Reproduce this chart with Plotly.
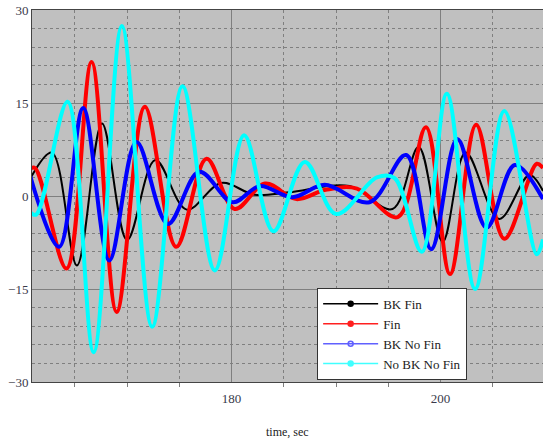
import plotly.graph_objects as go

# BK Fin (black)
bkfin_t = [160.7, 162.8, 165.2, 167.6, 170.0, 172.7, 175.7, 179.0, 182.2, 185.5, 191.3, 195.4, 197.9, 200.2, 202.4, 205.6, 208.5, 209.8]
bkfin_v = [2.7, 7.0, -11.2, 11.7, -7.1, 5.8, -2.2, 2.1, 0.2, 0.6, 1.6, -2.1, 7.9, -7.4, 7.0, -3.7, 3.4, 0.8]

# Fin (red)
fin_t = [160.7, 161.2, 164.2, 166.6, 169.0, 171.7, 174.7, 177.6, 180.3, 183.2, 186.2, 189.0, 192.0, 195.9, 198.6, 200.9, 203.4, 206.1, 209.2, 209.8]
fin_v = [4.4, 4.5, -11.7, 21.6, -18.7, 14.4, -8.2, 6.0, -2.1, 2.0, -0.5, 1.0, 1.2, -3.4, 11.1, -12.6, 11.5, -6.9, 5.2, 4.5]

# BK No Fin (blue)
bknofin_t = [160.7, 163.5, 165.8, 168.3, 170.9, 173.9, 176.9, 180.1, 182.7, 185.8, 188.9, 193.2, 196.7, 199.1, 201.6, 204.4, 207.1, 209.8]
bknofin_v = [3.4, -8.2, 14.2, -10.4, 8.7, -4.5, 3.9, -1.0, 1.6, -0.2, 1.8, -1.0, 6.6, -8.6, 9.2, -5.1, 5.0, -0.5]

# No BK No Fin (cyan)
nobk_t = [160.7, 161.3, 164.3, 166.8, 169.5, 172.4, 175.3, 178.4, 181.2, 184.0, 187.0, 190.0, 193.9, 195.6, 198.2, 200.6, 203.3, 206.1, 209.2, 209.8]
nobk_v = [-2.6, -3.0, 15.2, -25.2, 27.4, -21.1, 17.7, -12.0, 9.8, -5.7, 5.5, -2.9, 3.0, 2.9, -9.0, 16.5, -15.0, 13.7, -9.4, -7.0]

series_names = ["BK Fin", "Fin", "BK No Fin", "No BK No Fin"]
series_t = [bkfin_t, fin_t, bknofin_t, nobk_t]
series_v = [bkfin_v, fin_v, bknofin_v, nobk_v]
line_colors = ["#000000", "#ff0000", "#0000ff", "#00ffff"]
line_widths = [2, 4, 4, 4]
legend_colors = ["#000000", "#ff2020", "#6060ff", "#40ffff"]
legend_symbols = ["circle", "circle", "circle-open", "circle"]

fig = go.Figure()
for name, t, v, color, w in zip(series_names, series_t, series_v, line_colors, line_widths):
    fig.add_trace(go.Scatter(x=t, y=v, name=name, mode="lines", showlegend=False,
                             line=dict(color=color, width=w, shape="spline", smoothing=1.0)))
# legend entries (thin lines with small markers, as in the original legend)
for name, color, sym in zip(series_names, legend_colors, legend_symbols):
    fig.add_trace(go.Scatter(x=[None], y=[None], name=name, mode="lines+markers",
                             line=dict(color=color, width=1.5),
                             marker=dict(color=color, size=5, symbol=sym, line=dict(color=color, width=1.5))))

font_fam = "Liberation Serif, serif"
fig.update_layout(
    width=543, height=441,
    margin=dict(l=32, r=0, t=10, b=59),
    paper_bgcolor="white",
    plot_bgcolor="#c0c0c0",
    font=dict(family=font_fam, size=13, color="#3a3a4a"),
    showlegend=True,
    legend=dict(x=0.558, y=0.253, xanchor="left", yanchor="top",
                bgcolor="white", bordercolor="#333333", borderwidth=1,
                font=dict(family=font_fam, size=13, color="#222222"),
                tracegroupgap=0, itemwidth=55),
    xaxis=dict(range=[160.9, 209.8], tick0=180, dtick=20, automargin=False,
               showgrid=True, gridcolor="#7f7f7f", gridwidth=1,
               minor=dict(dtick=5, showgrid=True, gridcolor="#7f7f7f", griddash="3px,3px",
                          ticks="outside", ticklen=4, tickcolor="#7f7f7f"),
               ticks="", ticklabelstandoff=4, showline=True, linecolor="#444444", linewidth=1, mirror=True,
               zeroline=False),
    yaxis=dict(range=[-30, 30], tick0=0, dtick=15, automargin=False,
               showgrid=True, gridcolor="#7f7f7f", gridwidth=1,
               minor=dict(dtick=3, showgrid=True, gridcolor="#7f7f7f", griddash="3px,3px"),
               ticks="", showline=True, linecolor="#444444", linewidth=1,
               zeroline=False),
    annotations=[dict(text="time, sec", xref="paper", yref="paper", x=0.5, y=-0.134,
                      xanchor="center", yanchor="middle", showarrow=False,
                      font=dict(family=font_fam, size=12, color="#222222"))],
)

fig.write_html("out.html", config={"displayModeBar": False},
               post_script="document.body.style.margin='0';document.body.style.overflow='hidden';")
